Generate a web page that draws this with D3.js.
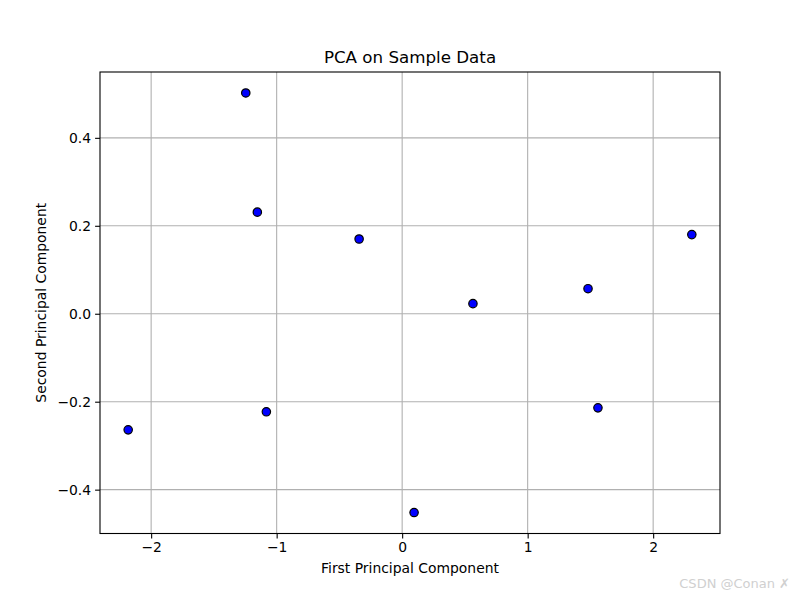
<!DOCTYPE html>
<html><head><meta charset="utf-8">
<script src="https://cdn.jsdelivr.net/npm/d3@7"></script>
<style>body{margin:0;background:#fff}svg{display:block}text{font-family:"DejaVu Sans",sans-serif}</style>
</head><body>
<script>
const pc1 = [-1.246, -1.154, -0.343, 0.564, 1.481, 2.308, 1.560, 0.095, -1.082, -2.183];
const pc2 = [0.502, 0.231, 0.170, 0.023, 0.057, 0.180, -0.214, -0.452, -0.223, -0.264];
const xTicks = [-2, -1, 0, 1, 2];
const yTicks = [-0.4, -0.2, 0.0, 0.2, 0.4];
const title = "PCA on Sample Data";
const xLabel = "First Principal Component";
const yLabel = "Second Principal Component";

const W = 800, H = 599;
const m = {left: 100, right: 720, top: 72, bottom: 533.5};
const svg = d3.select("body").append("svg").attr("width", W).attr("height", H);

const xr = d3.extent(pc1), yr = d3.extent(pc2);
const xm = (xr[1]-xr[0])*0.05, ym = (yr[1]-yr[0])*0.05;
const x = d3.scaleLinear().domain([xr[0]-xm, xr[1]+xm]).range([m.left, m.right]);
const y = d3.scaleLinear().domain([yr[0]-ym, yr[1]+ym]).range([m.bottom, m.top]);

const fmtX = d => d < 0 ? "\u2212" + Math.abs(d) : String(d);
const fmtY = d => { const s = Math.abs(d).toFixed(1); return d < -1e-9 ? "\u2212" + s : s; };

// grid
const g = svg.append("g");
g.selectAll(".gx").data(xTicks).join("line")
  .attr("x1", d => x(d)).attr("x2", d => x(d)).attr("y1", m.top).attr("y2", m.bottom)
  .attr("stroke", "#b0b0b0").attr("stroke-width", 1.1);
g.selectAll(".gy").data(yTicks).join("line")
  .attr("y1", d => y(d)).attr("y2", d => y(d)).attr("x1", m.left).attr("x2", m.right)
  .attr("stroke", "#b0b0b0").attr("stroke-width", 1.1);

// points
svg.append("g").selectAll("circle").data(pc1.map((v,i)=>[v, pc2[i]])).join("circle")
  .attr("cx", d => x(d[0])).attr("cy", d => y(d[1])).attr("r", 4.2)
  .attr("fill", "#0000ff").attr("stroke", "#000").attr("stroke-width", 1.2);

// axes
const xAxis = svg.append("g").attr("transform", `translate(0,${m.bottom})`)
  .call(d3.axisBottom(x).tickValues(xTicks).tickFormat(fmtX).tickSize(4.9).tickPadding(4));
const yAxis = svg.append("g").attr("transform", `translate(${m.left},0)`)
  .call(d3.axisLeft(y).tickValues(yTicks).tickFormat(fmtY).tickSize(4.9).tickPadding(4));
[xAxis, yAxis].forEach(a => {
  a.select(".domain").remove();
  a.selectAll("line").attr("stroke", "#000").attr("stroke-width", 1.1);
  a.selectAll("text").attr("font-size", 13.9).attr("fill", "#000").attr("font-family", "DejaVu Sans");
});

// frame
svg.append("rect").attr("x", m.left).attr("y", m.top)
  .attr("width", m.right - m.left).attr("height", m.bottom - m.top)
  .attr("fill", "none").attr("stroke", "#000").attr("stroke-width", 1.1);

// labels
svg.append("text").attr("x", (m.left+m.right)/2).attr("y", 63).attr("text-anchor", "middle")
  .attr("font-size", 16.7).text(title);
svg.append("text").attr("x", (m.left+m.right)/2).attr("y", 573).attr("text-anchor", "middle")
  .attr("font-size", 13.9).text(xLabel);
svg.append("text").attr("transform", `translate(46,${(m.top+m.bottom)/2}) rotate(-90)`)
  .attr("text-anchor", "middle").attr("font-size", 13.9).text(yLabel);

// watermark
svg.append("text").attr("x", 790).attr("y", 588).attr("text-anchor", "end")
  .attr("font-size", 13).attr("fill", "#d0d0d0").attr("font-family", "Noto Sans, sans-serif")
  .text("CSDN @Conan  \u2717");
</script>
</body></html>
